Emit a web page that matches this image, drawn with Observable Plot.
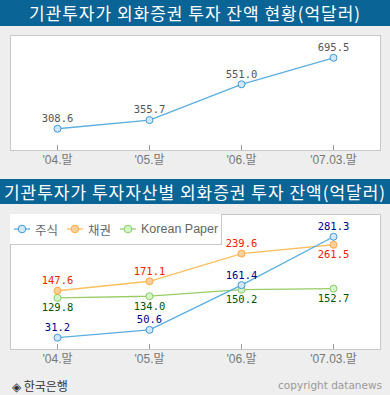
<!DOCTYPE html>
<html><head><meta charset="utf-8">
<script src="https://cdn.jsdelivr.net/npm/d3@7"></script>
<script src="https://cdn.jsdelivr.net/npm/@observablehq/plot@0.6"></script>
<style>
html,body{margin:0;padding:0;}
body{width:390px;height:395px;background:#eeeeee;position:relative;overflow:hidden;font-family:"Noto Sans CJK KR",sans-serif;}
.bar{position:absolute;left:0;width:390px;background:#0a6496;color:#fff;text-align:center;font-size:17px;letter-spacing:1px;font-family:"Noto Sans CJK KR",sans-serif;}
.panel{position:absolute;left:9px;}
#legend{position:absolute;left:10px;top:214px;width:211px;height:30px;background:#fff;border-right:1px solid #c8c8c8;border-bottom:1px solid #c8c8c8;display:flex;align-items:center;font-family:"Liberation Sans","Noto Sans CJK KR",sans-serif;font-size:12.5px;color:#666;}
#legend .item{display:flex;align-items:center;}
#src{position:absolute;left:12px;top:377px;font-size:12px;color:#333;}
#copy{position:absolute;right:8px;top:379px;font-size:10.5px;color:#999;font-family:"DejaVu Sans",sans-serif;}
</style></head>
<body>
<div class="bar" id="t1" style="top:0;height:26px;line-height:26px;"></div>
<div class="panel" id="p1" style="top:34px;"></div>
<div class="bar" id="t2" style="top:179px;height:25px;line-height:25px;"></div>
<div class="panel" id="p2" style="top:213px;"></div>
<div id="legend"></div>
<div id="src"></div>
<div id="copy"></div>
<script>
const title1 = "기관투자가 외화증권 투자 잔액 현황(억달러)";
const title2 = "기관투자가 투자자산별 외화증권 투자 잔액(억달러)";
const sourceText = "◈ 한국은행";
const copyText = "copyright datanews";
const periods = ["'04.말", "'05.말", "'06.말", "'07.03.말"];
const totalValues = [308.6, 355.7, 551.0, 695.5];
const seriesNames = ["주식", "채권", "Korean Paper"];
const stockValues = [31.2, 50.6, 161.4, 281.3];
const bondValues = [147.6, 171.1, 239.6, 261.5];
const paperValues = [129.8, 134.0, 150.2, 152.7];

const styles = {
  "주식": {line: "#5aaee0", fill: "#d2e8f8", stroke: "#3d9ad6", text: "#000088"},
  "채권": {line: "#ffbf5e", fill: "#ffcf9a", stroke: "#ffaa44", text: "#ee2200"},
  "Korean Paper": {line: "#99cc66", fill: "#d4f7c8", stroke: "#88cc66", text: "#005500"}
};
const totalStyle = {line: "#5aaee0", fill: "#d2e8f8", stroke: "#3d9ad6", text: "#555"};

document.getElementById("t1").textContent = title1;
document.getElementById("t2").textContent = title2;
document.getElementById("src").textContent = sourceText;
document.getElementById("copy").textContent = copyText;

const fmt = d3.format(".1f");
const monoFont = "DejaVu Sans Mono, monospace";
const tickFont = "Liberation Sans, Noto Sans CJK KR, sans-serif";

// Panel 1
const totals = periods.map((p, i) => ({period: p, value: totalValues[i]}));
const chart1 = Plot.plot({
  width: 372, height: 136,
  marginTop: 1, marginLeft: 1, marginRight: 1, marginBottom: 20,
  x: {type: "point", domain: periods, padding: 0.5, label: null},
  y: {domain: [190, 817], axis: null},
  style: {background: "transparent", fontFamily: tickFont, fontSize: "12px", color: "#777", overflow: "visible"},
  marks: [
    Plot.frame({fill: "white", stroke: "#c8c8c8"}),
    Plot.ruleX(periods, {x: d => d, stroke: "#999", insetTop: 110}),
    Plot.axisX({tickSize: 0, tickPadding: 5, fill: "#777", fontFamily: tickFont, fontSize: 12}),
    Plot.line(totals, {x: "period", y: "value", stroke: totalStyle.line, strokeWidth: 1.3}),
    Plot.dot(totals, {x: "period", y: "value", r: 3.5, fill: totalStyle.fill, stroke: totalStyle.stroke, strokeWidth: 1}),
    Plot.text(totals, {x: "period", y: "value", text: d => fmt(d.value), dy: -10, fill: totalStyle.text, fontFamily: monoFont, fontSize: 10.5})
  ]
});
document.getElementById("p1").appendChild(chart1);

// Panel 2
const seriesValues = {"주식": stockValues, "채권": bondValues, "Korean Paper": paperValues};
const rows = seriesNames.flatMap(s => periods.map((p, i) => ({series: s, period: p, value: seriesValues[s][i], i})));
const below = d => d.series === "Korean Paper" || (d.series === "채권" && d.i === periods.length - 1);

const marks2 = [
  Plot.frame({fill: "white", stroke: "#c8c8c8"}),
  Plot.ruleX(periods, {x: d => d, stroke: "#999", insetTop: 130}),
  Plot.axisX({tickSize: 0, tickPadding: 5, fill: "#777", fontFamily: tickFont, fontSize: 12})
];
for (const s of ["Korean Paper", "채권", "주식"]) {
  const data = rows.filter(d => d.series === s);
  const st = styles[s];
  marks2.push(Plot.line(data, {x: "period", y: "value", stroke: st.line, strokeWidth: 1.3}));
}
for (const s of ["Korean Paper", "채권", "주식"]) {
  const data = rows.filter(d => d.series === s);
  const st = styles[s];
  marks2.push(Plot.dot(data, {x: "period", y: "value", r: 3.5, fill: st.fill, stroke: st.stroke, strokeWidth: 1}));
  marks2.push(Plot.text(data.filter(d => !below(d)), {x: "period", y: "value", text: d => fmt(d.value), dy: -10, fill: st.text, fontFamily: monoFont, fontSize: 10.5}));
  marks2.push(Plot.text(data.filter(d => below(d)), {x: "period", y: "value", text: d => fmt(d.value), dy: 10, fill: st.text, fontFamily: monoFont, fontSize: 10.5}));
}
const chart2 = Plot.plot({
  width: 372, height: 156,
  marginTop: 1, marginLeft: 1, marginRight: 1, marginBottom: 20,
  x: {type: "point", domain: periods, padding: 0.5, label: null},
  y: {domain: [2, 336.5], axis: null},
  style: {background: "transparent", fontFamily: tickFont, fontSize: "12px", color: "#777", overflow: "visible"},
  marks: marks2
});
document.getElementById("p2").appendChild(chart2);

// Legend
const legend = document.getElementById("legend");
seriesNames.forEach((s, k) => {
  const st = styles[s];
  const item = document.createElement("div");
  item.className = "item";
  item.style.marginLeft = k === 0 ? "4px" : "9px";
  item.innerHTML = `<svg width="16" height="10" style="display:block"><line x1="0" y1="5" x2="16" y2="5" stroke="${st.line}" stroke-width="1.3"/><circle cx="8" cy="5" r="3.8" fill="${st.fill}" stroke="${st.stroke}"/></svg><span style="margin-left:5px">${s}</span>`;
  legend.appendChild(item);
});
</script>
</body></html>
